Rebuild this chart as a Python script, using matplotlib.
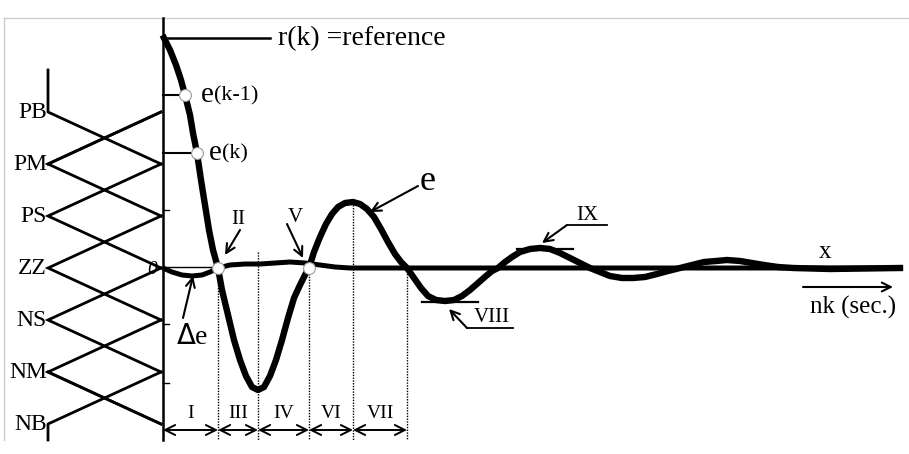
import matplotlib
matplotlib.use("Agg")
import matplotlib.pyplot as plt

plt.rcParams['font.family'] = ['Liberation Serif', 'DejaVu Serif']

# error e over time (t = time offset, value in units of the drawing)
e_t = [1, 7, 13, 18, 22, 27, 30, 34, 38, 42, 46, 50, 55, 59, 65, 71, 77, 83, 89, 95,
       101, 107, 113, 119, 125, 131, 137, 142, 146, 151, 157, 163, 169, 175, 182, 190,
       197, 204, 211, 218, 225, 232, 238, 244, 251, 258, 265, 273, 282, 291, 299, 307,
       315, 323, 329, 335, 342, 349, 357, 367, 377, 387, 397, 407, 417, 427, 437, 447,
       459, 470, 482, 494, 505, 517, 529, 541, 553, 564, 577, 589, 601, 615, 630, 667, 737]
e_v = [230, 218, 203, 188, 173, 153, 135, 115, 88, 63, 38, 18, 0, -22, -47, -72, -92, -108, -119, -122,
       -119, -108, -92, -72, -50, -30, -17, -7, 0, 16, 31, 44, 54, 61, 65, 66,
       64, 59, 51, 39, 26, 14, 6, 0, -10, -20, -28, -32, -33, -32, -28, -22,
       -15, -8, -3, 0, 6, 11, 16, 19, 20, 19, 15, 10, 5, 0, -4, -8,
       -10, -10, -9, -6, -3, 0, 3, 6, 7, 8, 7, 5, 3, 1, 0, -1, 0]

# change of error
de_t = [0, 9, 19, 29, 39, 47, 55, 67, 82, 97, 112, 127, 142, 157, 172, 187, 737]
de_v = [0, -4, -7, -8, -7, -4, 0, 3, 4, 4, 5, 6, 5, 3, 1, 0, 0]

# fuzzy sets on the left
mf_labels = ['PB', 'PM', 'PS', 'ZZ', 'NS', 'NM', 'NB']
mf_levels = [156, 104, 52, 0, -52, -104, -156]

# regions along time axis
region_edges = [0, 55, 95, 146, 190, 244]
region_tops = [0, 16, 0, 66, 0]
region_labels = ['I', 'III', 'IV', 'VI', 'VII']

sample_t = [22, 34, 55, 146]
sample_v = [173, 115, 0, 0]

fig = plt.figure(figsize=(9.09, 4.54), dpi=100)
ax = fig.add_axes([0, 0, 1, 1])
ax.set_xlim(-163, 746)
ax.set_ylim(-186, 268)
ax.axis('off')

# light frame
ax.plot([-159, 746], [250, 250], color='#cccccc', lw=1)
ax.plot([-159, -159], [250, -172], color='#cccccc', lw=1)

# vertical axis
ax.plot([0, 0], [250, -172], color='black', lw=1.8)
for v in [58, -56, -115]:
    ax.plot([0, 6], [v, v], color='black', lw=1)

# membership functions
x_left, x_right = -115, -2
for i, lv in enumerate(mf_levels):
    if 0 < i < len(mf_levels) - 1:
        ax.plot([x_right, x_left, x_right], [mf_levels[i - 1], lv, mf_levels[i + 1]],
                color='black', lw=2, solid_joinstyle='miter')
ax.plot([x_left, x_left, x_right], [198, mf_levels[0], mf_levels[1]], color='black', lw=2)
ax.plot([x_left, x_left, x_right], [-172, mf_levels[-1], mf_levels[-2]], color='black', lw=2)
ax.plot([x_right, x_left], [mf_levels[0], mf_levels[1]], color='black', lw=2)
ax.plot([x_right, x_left], [mf_levels[-1], mf_levels[-2]], color='black', lw=2)
for lab, lv in zip(mf_labels, mf_levels):
    ax.text(-116, lv, lab, ha='right', va='center', fontsize=17)

# reference and sample lines
ax.plot([0, 107], [230, 230], color='black', lw=1.8)
ax.plot([0, 22], [173, 173], color='black', lw=1.5)
ax.plot([0, 34], [115, 115], color='black', lw=1.5)
ax.plot([0, 55], [1, 1], color='black', lw=1)

# dotted region lines
for x, top in zip(region_edges[1:], region_tops):
    ax.plot([x, x], [top, -172], color='black', lw=1, linestyle=(0, (1, 1)))

# curves
ax.plot(de_t, de_v, color='black', lw=3.6, solid_capstyle='butt')
ax.plot(e_t, e_v, color='black', lw=4.6, solid_joinstyle='round')
ax.plot(sample_t, sample_v, 'o', markersize=8.5, markerfacecolor='white',
        markeredgecolor='#999999', markeredgewidth=0.8)

# region arrows and labels
for a, b, lab in zip(region_edges[:-1], region_edges[1:], region_labels):
    ax.annotate('', xy=(a, -162), xytext=(b, -162),
                arrowprops=dict(arrowstyle='<->', color='black', lw=1.4,
                                shrinkA=0, shrinkB=0, mutation_scale=18))
    ax.text((a + b) / 2, -145, lab, ha='center', va='center', fontsize=14)

# peak markers
ax.plot([259, 315], [-34, -34], color='black', lw=1.6)
ax.plot([354, 410], [19, 19], color='black', lw=1.6)
ax.plot([304, 350], [-60, -60], color='black', lw=1.3)
ax.plot([404, 444], [43, 43], color='black', lw=1.3)

arrow = dict(arrowstyle='->', color='black', lw=1.5, shrinkA=0, shrinkB=0, mutation_scale=16)
ax.annotate('', xy=(286, -41), xytext=(304, -60), arrowprops=arrow)
ax.annotate('', xy=(379, 25), xytext=(404, 43), arrowprops=arrow)
ax.annotate('', xy=(62, 13), xytext=(77, 38), arrowprops=arrow)
ax.annotate('', xy=(140, 10), xytext=(124, 44), arrowprops=arrow)
ax.annotate('', xy=(207, 56), xytext=(255, 82), arrowprops=arrow)
ax.annotate('', xy=(30, -8), xytext=(20, -50), arrowprops=arrow)
ax.annotate('', xy=(730, -19), xytext=(640, -19), arrowprops=arrow)

# texts
ax.text(115, 229, 'r(k) =reference', ha='left', va='center', fontsize=20)
t1 = ax.text(38, 173, 'e', ha='left', va='center', fontsize=21)
ax.annotate('(k-1)', xy=(1, 0.45), xycoords=t1, ha='left', va='center', fontsize=16)
t2 = ax.text(46, 115, 'e', ha='left', va='center', fontsize=21)
ax.annotate('(k)', xy=(1, 0.45), xycoords=t2, ha='left', va='center', fontsize=16)
ax.text(75, 48, 'II', ha='center', va='center', fontsize=15)
ax.text(132, 50, 'V', ha='center', va='center', fontsize=15)
ax.text(265, 86, 'e', ha='center', va='center', fontsize=26)
ax.text(29, -69, r'$\Delta$e', ha='center', va='center', fontsize=20)
ax.text(-11, -1, '0', ha='center', va='center', fontsize=14, style='italic')
ax.text(329, -49, 'VIII', ha='center', va='center', fontsize=15)
ax.text(424, 53, 'IX', ha='center', va='center', fontsize=15)
ax.text(662, 16, 'x', ha='center', va='center', fontsize=18)
ax.text(690, -39, 'nk (sec.)', ha='center', va='center', fontsize=18)

fig.savefig('out.png', dpi=100)
